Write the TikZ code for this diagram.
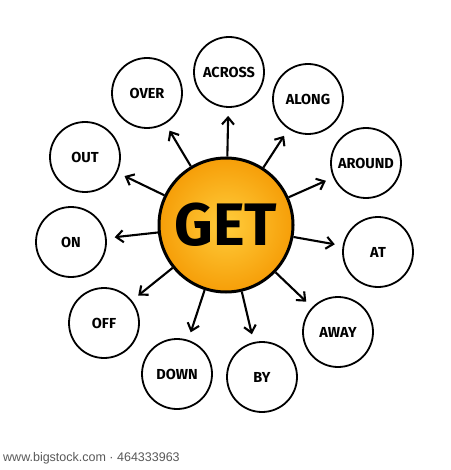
\documentclass[tikz,border=0pt]{standalone}
\usepackage{fontspec}
\setmainfont{Fira Sans}
\newfontfamily\footfont{Liberation Sans}
\usetikzlibrary{arrows.meta}
\definecolor{orEdge}{RGB}{246,158,8}
\definecolor{orCore}{RGB}{255,205,60}
\tikzset{
  leaf/.style={circle,draw=black,line width=1.8pt,minimum size=70pt,inner sep=0pt,
    font=\fontsize{14.5}{14.5}\selectfont\bfseries},
  hub/.style={circle,draw=black,line width=3pt,minimum size=134pt,inner sep=0pt,
    inner color=orCore,outer color=orEdge,
    font=\fontsize{60}{60}\selectfont\bfseries},
  arr/.style={line width=2.1pt,-{Straight Barb[length=7pt,width=12pt]},shorten >=8pt}
}
\begin{document}
\begin{tikzpicture}[x=1pt,y=-1pt]
\useasboundingbox (0,0) rectangle (450,470);
\fill[white] (0,0) rectangle (450,470);
\node[hub] (G) at (226,225) {GET};
\node[leaf] (across) at (229,72) {ACROSS};
\node[leaf] (over) at (147,93) {OVER};
\node[leaf] (along) at (308,99) {ALONG};
\node[leaf] (out) at (85,157) {OUT};
\node[leaf] (on) at (71,242) {ON};
\node[leaf] (around) at (366,163) {AROUND};
\node[leaf] (at) at (378,252) {AT};
\node[leaf] (off) at (104,323) {OFF};
\node[leaf] (down) at (177,374) {DOWN};
\node[leaf] (by) at (262,377) {BY};
\node[leaf] (away) at (338,332) {AWAY};
\foreach \n in {across,over,along,out,on,around,at,off,down,by,away}
  \draw[arr] (G) -- (\n);
\node[anchor=west,text=black!65,font=\footfont\fontsize{12.5}{12.5}\selectfont,inner sep=0pt] (foot) at (3,458) {www.bigstock.com · 464333963};
\end{tikzpicture}
\end{document}
